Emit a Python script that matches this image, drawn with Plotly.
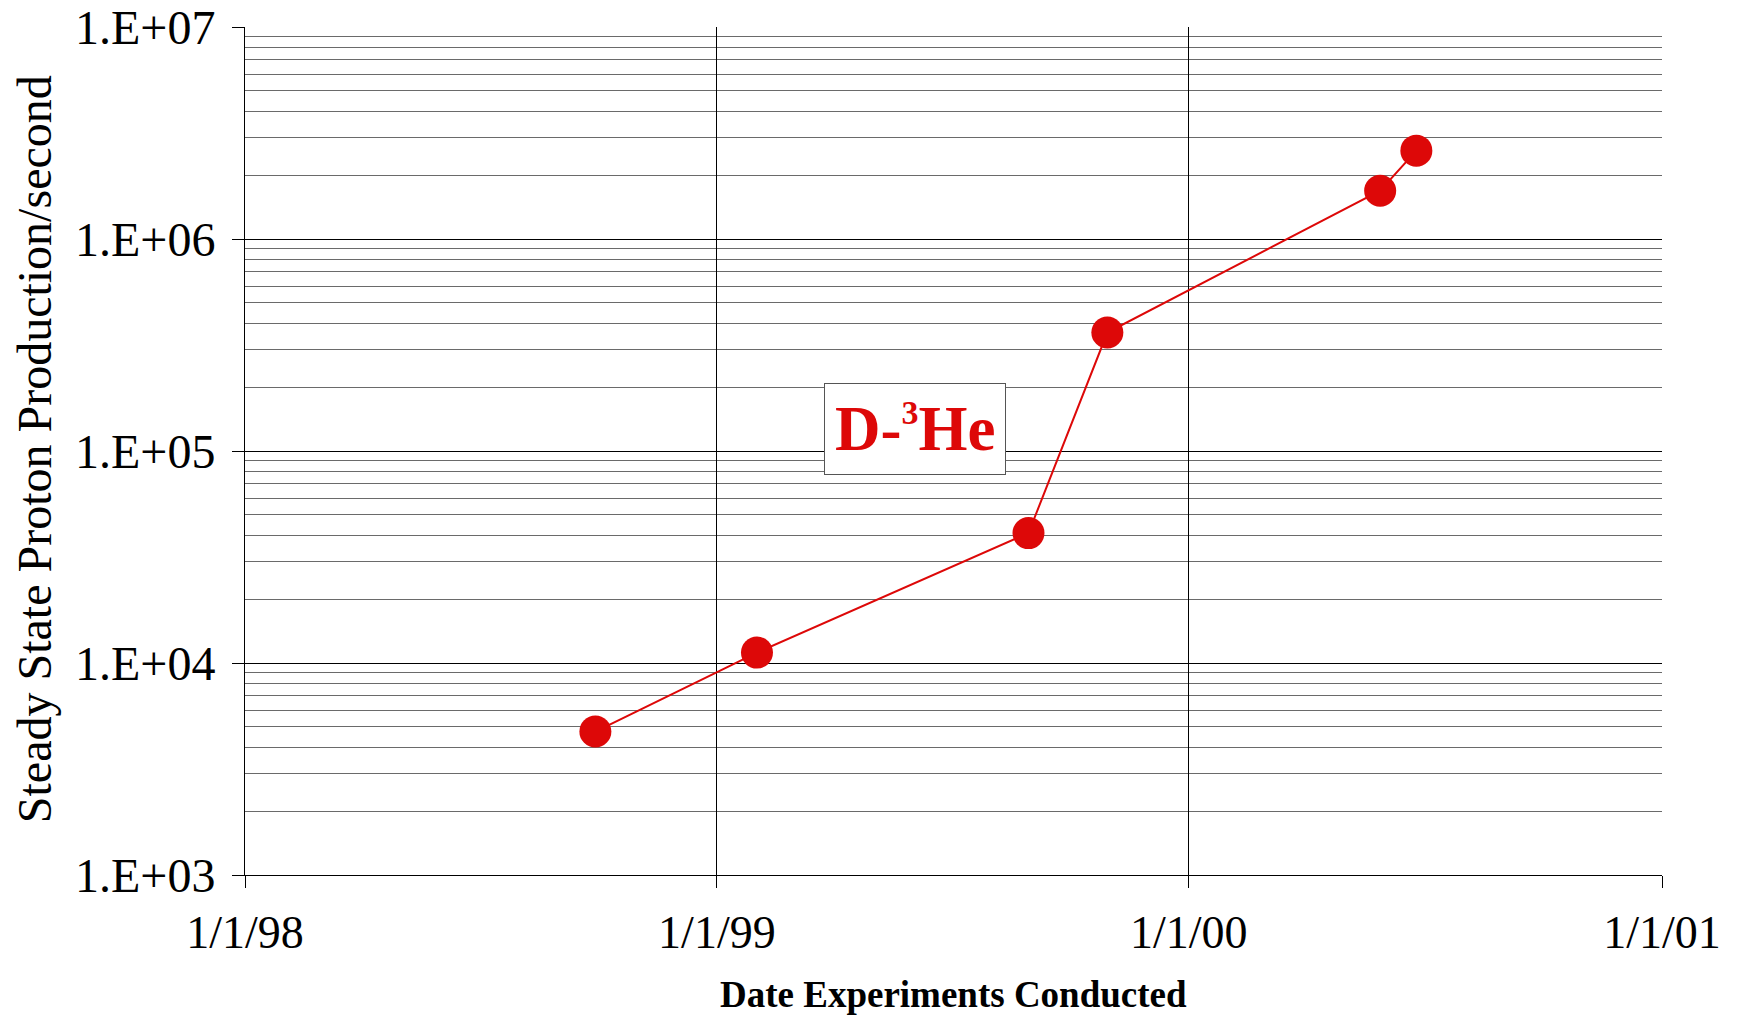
import plotly.graph_objects as go

# Data
dates = ["1998-09-29", "1999-02-01", "1999-08-30", "1999-10-30", "2000-05-28", "2000-06-25"]
protons = [4750, 11200, 41000, 362000, 1690000, 2610000]

x_tickvals = ["1998-01-01", "1999-01-01", "2000-01-01", "2001-01-01"]
x_ticktext = ["1/1/98", "1/1/99", "1/1/00", "1/1/01"]
y_tickvals = [1e3, 1e4, 1e5, 1e6, 1e7]
y_ticktext = ["1.E+03", "1.E+04", "1.E+05", "1.E+06", "1.E+07"]

RED = "#dd0808"
FONT = "Liberation Serif, Times New Roman, serif"

fig = go.Figure()
fig.add_trace(go.Scatter(
    x=dates, y=protons, mode="lines+markers",
    line=dict(color=RED, width=2),
    marker=dict(color=RED, size=32),
    showlegend=False,
))

fig.add_annotation(
    x="1999-06-03", y=5.106, xref="x", yref="y",
    text="<b>D-<sup><span style='font-size:34px'>3</span></sup>He</b>", showarrow=False,
    font=dict(family=FONT, size=63, color=RED),
    bgcolor="white", bordercolor="#555555", borderwidth=1, borderpad=10,
)

# Axis titles
fig.add_annotation(
    x=0.5, y=-0.1415, xref="paper", yref="paper",
    text="<b>Date Experiments Conducted</b>", showarrow=False,
    font=dict(family=FONT, size=37, color="black"),
    xanchor="center", yanchor="middle",
)
fig.add_annotation(
    x=-0.149, y=0.502, xref="paper", yref="paper",
    text="Steady State Proton Production/second", showarrow=False,
    font=dict(family=FONT, size=48, color="black"),
    textangle=-90, xanchor="center", yanchor="middle",
)

fig.update_layout(
    width=1738, height=1020,
    margin=dict(l=237, r=84, t=19, b=153, autoexpand=False),
    paper_bgcolor="white", plot_bgcolor="white",
    font=dict(family=FONT, color="black"),
)

fig.update_xaxes(
    type="date", range=["1998-01-01", "2001-01-01"],
    tickvals=x_tickvals, ticktext=x_ticktext,
    tickfont=dict(size=46, family=FONT),
    showgrid=True, gridcolor="black", gridwidth=1,
    showline=True, linecolor="black", linewidth=1,
    ticks="outside", ticklen=12, tickcolor="black",
    ticklabelstandoff=5, ticklabeloverflow="allow",
    zeroline=False, automargin=False,
)

fig.update_yaxes(
    type="log", range=[3, 7],
    tickvals=y_tickvals, ticktext=y_ticktext,
    tickfont=dict(size=48, family=FONT),
    showgrid=True, gridcolor="black", gridwidth=1,
    showline=True, linecolor="black", linewidth=1,
    ticks="outside", ticklen=12, tickcolor="black",
    ticklabelstandoff=7, ticklabeloverflow="allow",
    minor=dict(dtick="D1", showgrid=True, gridcolor="#6a6a6a", gridwidth=1, ticks=""),
    zeroline=False, automargin=False,
)

fig.write_html("out.html")
